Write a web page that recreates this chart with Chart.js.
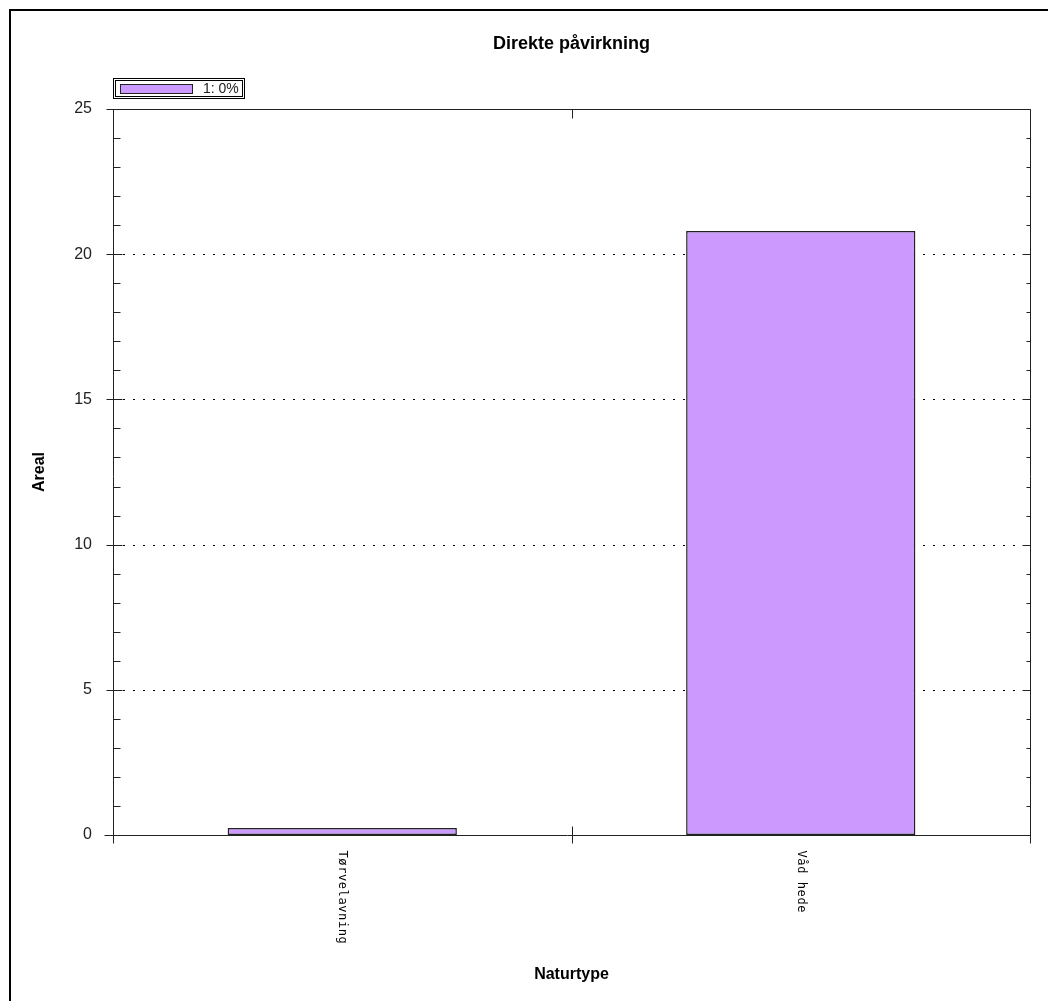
<!DOCTYPE html>
<html>
<head>
<meta charset="utf-8">
<script src="https://cdn.jsdelivr.net/npm/chart.js@4.4.1/dist/chart.umd.min.js"></script>
<style>
  html, body { margin: 0; padding: 0; background: #fff; }
  #wrap { width: 1048px; height: 1001px; position: relative; }
</style>
</head>
<body>
<div id="wrap"><canvas id="chart"></canvas></div>
<script>
// Data
const categories = ['Tørvelavning', 'Våd hede'];
const areaValues = [0.24, 20.8];
const seriesLabel = '1: 0%';
const yTickValues = [0, 5, 10, 15, 20, 25];

const FONT = "'Liberation Sans', Arial, sans-serif";
const BAR_FILL = '#cc99ff';
const INK = '#222';

// Frame, axis box, ticks, dotted grid, legend, title and rotated x labels
const decorPlugin = {
    id: 'decor',
    beforeDatasetsDraw(chart) {
        const ctx = chart.ctx;
        const { left, right } = chart.chartArea;
        const y = chart.scales.y;
        ctx.save();
        ctx.strokeStyle = '#000';
        ctx.lineWidth = 1;
        ctx.setLineDash([2, 8]);
        yTickValues.forEach(v => {
            if (v === 0 || v === 25) return;
            const py = Math.round(y.getPixelForValue(v)) + 0.5;
            ctx.beginPath();
            ctx.moveTo(left + 10, py);
            ctx.lineTo(right, py);
            ctx.stroke();
        });
        ctx.restore();
    },
    afterDraw(chart) {
        const ctx = chart.ctx;
        const { left, right, top, bottom } = chart.chartArea;
        const x = chart.scales.x;
        const y = chart.scales.y;
        const L = Math.round(left) + 0.5, R = Math.round(right) + 0.5;
        const T = Math.round(top) + 0.5, B = Math.round(bottom) + 0.5;
        ctx.save();

        // outer frame (left + top)
        ctx.strokeStyle = '#000';
        ctx.lineWidth = 2;
        ctx.beginPath();
        ctx.moveTo(10, 1001);
        ctx.lineTo(10, 10);
        ctx.lineTo(1048, 10);
        ctx.stroke();

        // axis box
        ctx.strokeStyle = '#222';
        ctx.lineWidth = 1;
        ctx.beginPath();
        ctx.moveTo(L - 9, B); ctx.lineTo(R, B);
        ctx.moveTo(L, B + 8); ctx.lineTo(L, T);
        ctx.lineTo(R, T); ctx.lineTo(R, B + 8);
        ctx.stroke();

        // y ticks (major every 5, minor every 1)
        ctx.beginPath();
        for (let v = 0; v <= 25; v++) {
            const py = Math.round(y.getPixelForValue(v)) + 0.5;
            const major = v % 5 === 0;
            ctx.moveTo(major ? L - 7 : L, py);
            ctx.lineTo(major ? L + 9 : L + 7, py);
            ctx.moveTo(R - (major ? 8 : 4), py);
            ctx.lineTo(R, py);
        }
        // x ticks at category boundaries
        const mid = Math.round((x.getPixelForTick(0) + x.getPixelForTick(1)) / 2) + 0.5;
        ctx.moveTo(mid, B - 9); ctx.lineTo(mid, B + 8);
        ctx.moveTo(mid, T); ctx.lineTo(mid, T + 9);
        ctx.stroke();

        // rotated category labels (reading top to bottom)
        ctx.fillStyle = '#000';
        ctx.font = "12px 'DejaVu Sans Mono', monospace";
        ctx.letterSpacing = '0.6px';
        ctx.textAlign = 'left';
        ctx.textBaseline = 'middle';
        categories.forEach((c, i) => {
            const px = x.getPixelForTick(i);
            ctx.save();
            ctx.translate(px, B + 15);
            ctx.rotate(Math.PI / 2);
            ctx.fillText(c, 0, 0);
            ctx.restore();
        });
        ctx.letterSpacing = '0px';

        // title
        ctx.font = 'bold 18px ' + FONT;
        ctx.textAlign = 'center';
        ctx.textBaseline = 'middle';
        ctx.fillStyle = '#000';
        ctx.fillText('Direkte påvirkning', (left + right) / 2, 44);

        // legend box
        ctx.lineWidth = 1;
        ctx.strokeStyle = '#000';
        ctx.strokeRect(113.5, 78.5, 131, 20);
        ctx.strokeRect(115.5, 80.5, 127, 16);
        ctx.fillStyle = BAR_FILL;
        ctx.fillRect(120, 84, 72, 9);
        ctx.strokeStyle = '#222';
        ctx.strokeRect(120.5, 84.5, 72, 9);
        ctx.fillStyle = INK;
        ctx.font = '14px ' + FONT;
        ctx.textAlign = 'left';
        ctx.fillText(chart.data.datasets[0].label, 203, 89);

        ctx.restore();
    }
};

new Chart(document.getElementById('chart'), {
    type: 'bar',
    data: {
        labels: categories,
        datasets: [{
            label: seriesLabel,
            data: areaValues,
            backgroundColor: BAR_FILL,
            borderColor: '#222',
            borderWidth: 1.5,
            borderSkipped: false,
            categoryPercentage: 1,
            barPercentage: 0.5,
        }]
    },
    options: {
        responsive: true,
        maintainAspectRatio: false,
        animation: false,
        devicePixelRatio: 1,
        layout: { padding: { left: 9, right: 18, top: 109, bottom: 9 } },
        plugins: {
            legend: { display: false },
            title: { display: false },
            tooltip: { enabled: false },
        },
        scales: {
            x: {
                grid: { display: false },
                border: { display: false },
                ticks: { display: false },
                title: {
                    display: true,
                    text: 'Naturtype',
                    color: '#000',
                    font: { family: FONT, size: 16, weight: 'bold' },
                    padding: { top: 0, bottom: 8 },
                },
                afterFit(scale) { scale.height = 157; },
            },
            y: {
                min: 0,
                max: 25,
                grid: { display: false, drawTicks: false },
                border: { display: false },
                ticks: {
                    stepSize: 5,
                    color: INK,
                    padding: 21,
                    font: { family: FONT, size: 16 },
                },
                title: {
                    display: true,
                    text: 'Areal',
                    color: '#000',
                    font: { family: FONT, size: 16, weight: 'bold' },
                    padding: { top: 21, bottom: 0 },
                },
                afterFit(scale) { scale.width = 104; },
            }
        }
    },
    plugins: [decorPlugin]
});
</script>
</body>
</html>
